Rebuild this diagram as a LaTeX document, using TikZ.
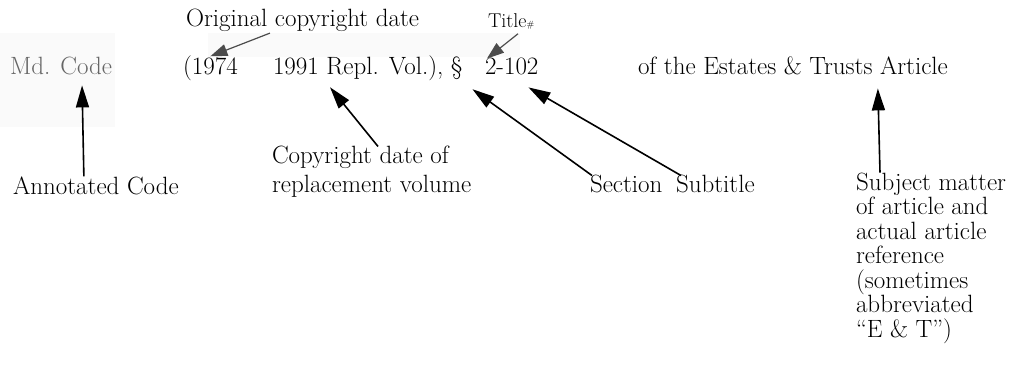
\documentclass[tikz,border=0pt]{standalone}
\usepackage{tikz}
\usetikzlibrary{arrows.meta}
\definecolor{codegrey}{rgb}{0.40,0.40,0.40}
\definecolor{softblack}{rgb}{0.30,0.30,0.30}
\definecolor{scanshade}{rgb}{0.98,0.98,0.98}

\begin{document}
\begin{tikzpicture}[x=1pt,y=-1pt,
  every node/.style={inner sep=0pt,outer sep=0pt,anchor=base west,font=\fontsize{25}{24.5}\selectfont},
  pointer/.style={line width=1.6pt,-{Triangle[length=22pt,width=13pt]}},
  softpointer/.style={line width=1.2pt,softblack,-{Triangle[length=17pt,width=12pt]}}]

\useasboundingbox (0,0) rectangle (1022,374);

% Faint shaded bands
\fill[scanshade] (0,33) rectangle (115,127);
\fill[scanshade] (208,33) rectangle (520,57);

% Citation line
\node[codegrey] (md) at (10,75) {Md. Code};
\node (orig1974) at (183,75) {(1974};
\node (repl) at (273,75) {1991 Repl. Vol.), \S};
\node (num) at (485,75) {2-102};
\node (art) at (638,75) {of the Estates \& Trusts Article};

% Labels above the line
\node (origdate) at (186,27) {Original copyright date};
\node[font=\fontsize{20}{22}\selectfont] (title) at (488,28) {Title{\small\#}};

% Labels below the line (multi-line nodes sit on their last line)
\node (annot) at (13,194) {Annotated Code};
\node[align=left,font=\fontsize{25}{29}\selectfont] (repldate) at (272,193) {Copyright date of\\replacement volume};
\node (sect) at (590,193) {Section};
\node (subt) at (676,193) {Subtitle};
\node[align=left] (subj) at (856,337) {Subject matter\\of article and\\actual article\\reference\\(sometimes\\abbreviated\\``E \& T'')};

% Arrows
\draw[softpointer] ([xshift=84pt,yshift=-1pt]origdate.south west) -- (orig1974.north);
\draw[softpointer] ([xshift=30pt,yshift=-4pt]title.south west) -- ([xshift=2pt]num.north west);
\draw[pointer] ([xshift=-12pt]annot.north) -- ([xshift=21pt,yshift=-10pt]md.south);
\draw[pointer] ([xshift=106pt]repldate.north west) -- ([xshift=57pt,yshift=-6pt]repl.south west);
\draw[pointer] ([xshift=2pt]sect.north west) -- ([xshift=10pt,yshift=-8pt]repl.south east);
\draw[pointer] ([xshift=5pt]subt.north west) -- ([xshift=-10pt,yshift=-12pt]num.south east);
\draw[pointer] ([xshift=24pt]subj.north west) -- ([xshift=-70pt,yshift=-13pt]art.south east);

\end{tikzpicture}
\end{document}
